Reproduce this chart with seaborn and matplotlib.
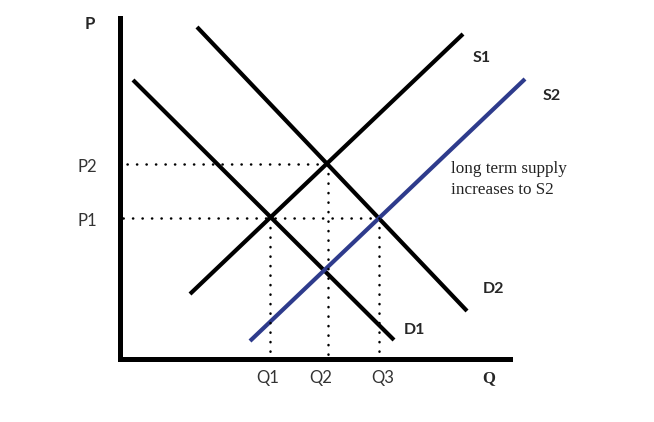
import pandas as pd
import matplotlib.pyplot as plt
import seaborn as sns

# curve endpoints (quantity, price) in diagram units
d1_q = [13, 274]
d1_p = [279, 19]
d2_q = [77, 347]
d2_p = [332, 48]
s1_q = [70, 343]
s1_p = [65, 325]
s2_q = [130, 405]
s2_p = [18, 280]

# equilibrium levels
q_labels = ['Q1', 'Q2', 'Q3']
q_eq = [150, 208, 259]
p_labels = ['P1', 'P2']
p_eq = [141, 195]

curves = pd.concat([
    pd.DataFrame({'Q': d1_q, 'P': d1_p, 'curve': 'D1'}),
    pd.DataFrame({'Q': d2_q, 'P': d2_p, 'curve': 'D2'}),
    pd.DataFrame({'Q': s1_q, 'P': s1_p, 'curve': 'S1'}),
    pd.DataFrame({'Q': s2_q, 'P': s2_p, 'curve': 'S2'}),
])
colors = {'D1': 'black', 'D2': 'black', 'S1': 'black', 'S2': '#2e3b8c'}

sns.set_style('white')
plt.rcParams['font.family'] = ['Lato', 'DejaVu Sans']

fig = plt.figure(figsize=(6.54, 4.22), dpi=100)
ax = fig.add_axes([120 / 654, 63 / 422, 390 / 654, 341 / 422])

sns.lineplot(data=curves, x='Q', y='P', hue='curve', palette=colors,
             linewidth=3, legend=False, ax=ax, estimator=None, sort=False)
for line in ax.lines:
    line.set_clip_on(False)
    line.set_solid_capstyle('butt')

dots = dict(color='black', linewidth=1.8, linestyle=(0, (0.1, 3.7)),
            dash_capstyle='round', clip_on=False)
# horizontal guides: P1 runs to Q3, P2 runs to Q2
ax.plot([3, q_eq[2]], [p_eq[0], p_eq[0]], **dots)
ax.plot([7, q_eq[1]], [p_eq[1], p_eq[1]], **dots)
# vertical guides
ax.plot([q_eq[0], q_eq[0]], [p_eq[0], 0], **dots)
ax.plot([q_eq[1], q_eq[1]], [p_eq[1], 0], **dots)
ax.plot([q_eq[2], q_eq[2]], [p_eq[0], 0], **dots)

ax.set_xlim(0, 390)
ax.set_ylim(0, 341)
ax.set_xticks([])
ax.set_yticks([])
ax.set_xlabel('')
ax.set_ylabel('')
sns.despine(ax=ax)
for side in ['left', 'bottom']:
    ax.spines[side].set_linewidth(3.6)
    ax.spines[side].set_color('black')
    ax.spines[side].set_capstyle('projecting')

gray = '#333333'
ax.text(-30, 335, 'P', fontsize=12, fontweight='bold', ha='center', va='center')
ax.text(369, -19, 'Q', fontsize=12, fontweight='bold', ha='center', va='center',
        family=['Liberation Serif'])
for lab, p in zip(p_labels, p_eq):
    ax.text(-33, p - 3, lab, fontsize=12, color=gray, ha='center', va='center')
for lab, q, dx in zip(q_labels, q_eq, [-2, -7, 4]):
    ax.text(q + dx, -19, lab, fontsize=12, color=gray, ha='center', va='center')

ax.text(362, 301, 'S1', fontsize=11.5, fontweight='bold', ha='center', va='center')
ax.text(432, 263, 'S2', fontsize=11.5, fontweight='bold', ha='center', va='center')
ax.text(373, 70, 'D2', fontsize=11.5, fontweight='bold', ha='center', va='center')
ax.text(294, 29, 'D1', fontsize=11.5, fontweight='bold', ha='center', va='center')

ax.text(331, 198, 'long term supply\nincreases to S2', fontsize=12.3,
        family=['Liberation Serif'], color='#222222', ha='left', va='top',
        linespacing=1.4)

fig.savefig('out.png', dpi=100)
